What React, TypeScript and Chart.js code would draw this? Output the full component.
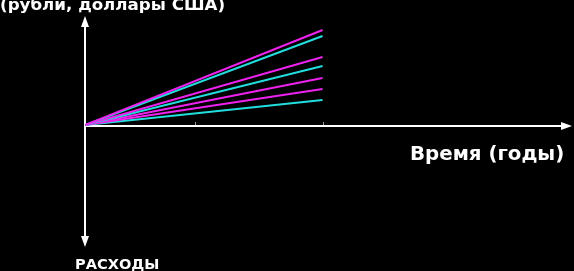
import React, { useEffect, useRef } from "react";
import { Chart, registerables } from "chart.js";

Chart.register(...registerables);

// Time (years) for each line: start and end
const years = [0, 2];
// End values of each line (start at 0)
const lineEnds = [9.5, 8.9, 6.8, 5.9, 4.7, 3.6, 2.5];
const lineColors = ["#ee22ee", "#22dddd", "#ee22ee", "#22dddd", "#ee22ee", "#ee22ee", "#22dddd"];
const xTickMarks = [0.93, 2];
const yLabel = "(рубли, доллары США)";
const xLabel = "Время (годы)";
const yNegLabel = "РАСХОДЫ";

const axesPlugin = {
  id: "arrowAxes",
  beforeDatasetsDraw(chart: any) {
    const { ctx, chartArea, scales } = chart;
    const x0 = scales.x.getPixelForValue(0);
    const y0 = scales.y.getPixelForValue(0);
    ctx.save();
    ctx.strokeStyle = "#ffffff";
    ctx.fillStyle = "#ffffff";
    ctx.lineWidth = 2;
    // x axis
    ctx.beginPath();
    ctx.moveTo(x0, y0 + 1);
    ctx.lineTo(chartArea.right - 6, y0 + 1);
    ctx.stroke();
    ctx.beginPath();
    ctx.moveTo(chartArea.right, y0 + 1);
    ctx.lineTo(chartArea.right - 11, y0 - 3);
    ctx.lineTo(chartArea.right - 11, y0 + 5);
    ctx.closePath();
    ctx.fill();
    // y axis
    ctx.beginPath();
    ctx.moveTo(x0, chartArea.top + 6);
    ctx.lineTo(x0, chartArea.bottom - 6);
    ctx.stroke();
    ctx.beginPath();
    ctx.moveTo(x0, chartArea.top);
    ctx.lineTo(x0 - 4, chartArea.top + 11);
    ctx.lineTo(x0 + 4, chartArea.top + 11);
    ctx.closePath();
    ctx.fill();
    ctx.beginPath();
    ctx.moveTo(x0, chartArea.bottom);
    ctx.lineTo(x0 - 4, chartArea.bottom - 11);
    ctx.lineTo(x0 + 4, chartArea.bottom - 11);
    ctx.closePath();
    ctx.fill();
    // small tick marks
    ctx.strokeStyle = "#999999";
    ctx.lineWidth = 1;
    xTickMarks.forEach((v) => {
      const px = Math.round(scales.x.getPixelForValue(v)) + 0.5;
      ctx.beginPath();
      ctx.moveTo(px, y0 - 3);
      ctx.lineTo(px, y0);
      ctx.stroke();
    });
    ctx.restore();
  },
};

export default function App() {
  const ref = useRef<HTMLCanvasElement | null>(null);
  useEffect(() => {
    document.body.style.margin = "0";
    document.body.style.background = "#000";
    const datasets = lineEnds.map((v, i) => ({
      data: [
        { x: years[0], y: 0 },
        { x: years[1], y: v },
      ],
      borderColor: lineColors[i],
      backgroundColor: lineColors[i],
      borderWidth: 2,
      pointRadius: 0,
      showLine: true,
      fill: false,
    }));
    const chart = new Chart(ref.current as HTMLCanvasElement, {
      type: "scatter",
      data: { datasets },
      options: {
        animation: false,
        responsive: false,
        maintainAspectRatio: false,
        layout: { padding: { left: 85, right: 2, top: 16, bottom: 24 } },
        plugins: { legend: { display: false }, tooltip: { enabled: false } },
        scales: {
          x: { type: "linear", display: false, min: 0, max: 4.1 },
          y: { type: "linear", display: false, min: -12.2, max: 10.9 },
        },
      },
      plugins: [axesPlugin],
    });
    return () => chart.destroy();
  }, []);

  const font = '"DejaVu Sans", Verdana, sans-serif';
  return (
    <div style={{ position: "fixed", left: 0, top: 0, width: 574, height: 271, background: "#000", overflow: "hidden" }}>
      <canvas ref={ref} width={574} height={271} style={{ position: "absolute", left: 0, top: 0, width: 574, height: 271 }} />
      <div style={{ position: "absolute", left: 0, top: -6, color: "#fff", fontFamily: font, fontWeight: "bold", fontSize: 16.7, lineHeight: "20px", whiteSpace: "nowrap" }}>{yLabel}</div>
      <div style={{ position: "absolute", left: 410, top: 142, color: "#fff", fontFamily: font, fontWeight: "bold", fontSize: 19.8, lineHeight: "24px", whiteSpace: "nowrap" }}>{xLabel}</div>
      <div style={{ position: "absolute", left: 75, top: 255, color: "#fff", fontFamily: font, fontWeight: "bold", fontSize: 14.6, lineHeight: "18px", whiteSpace: "nowrap" }}>{yNegLabel}</div>
    </div>
  );
}
